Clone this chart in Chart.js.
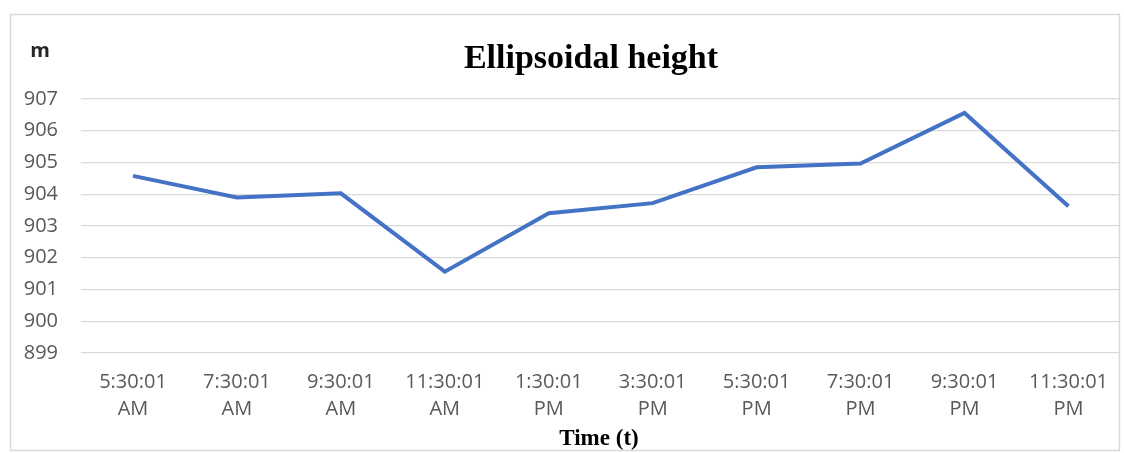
<!DOCTYPE html>
<html>
<head>
<meta charset="utf-8">
<script src="https://cdn.jsdelivr.net/npm/chart.js@4/dist/chart.umd.min.js"></script>
<style>
  html, body { margin: 0; padding: 0; background: #ffffff; }
  #wrap { width: 1124px; height: 453px; position: relative; }
</style>
</head>
<body>
<div id="wrap"><canvas id="c"></canvas></div>
<script>
const categories = [
  ["5:30:01", "AM"], ["7:30:01", "AM"], ["9:30:01", "AM"], ["11:30:01", "AM"],
  ["1:30:01", "PM"], ["3:30:01", "PM"], ["5:30:01", "PM"], ["7:30:01", "PM"],
  ["9:30:01", "PM"], ["11:30:01", "PM"]
];
const heights = [904.58, 903.90, 904.03, 901.56, 903.40, 903.72, 904.85, 904.97, 906.56, 903.62];
const yTicks = [899, 900, 901, 902, 903, 904, 905, 906, 907];
const chartTitle = "Ellipsoidal height";
const yUnit = "m";
const xTitle = "Time (t)";

const decor = {
  id: 'decor',
  beforeDraw(chart) {
    const ctx = chart.ctx;
    ctx.save();
    ctx.fillStyle = '#ffffff';
    ctx.fillRect(0, 0, chart.width, chart.height);
    ctx.strokeStyle = '#d9d9d9';
    ctx.lineWidth = 1.5;
    ctx.strokeRect(10.5, 14.5, 1109, 436);
    ctx.restore();
  },
  afterDraw(chart) {
    const ctx = chart.ctx;
    ctx.save();
    ctx.textAlign = 'center';
    ctx.textBaseline = 'alphabetic';
    ctx.fillStyle = '#000000';
    ctx.font = 'bold 34px "Liberation Serif"';
    ctx.fillText(chartTitle, 591, 68);
    ctx.font = 'bold 23px "Liberation Serif"';
    ctx.fillText(xTitle, 599, 445);
    ctx.fillStyle = '#262626';
    ctx.font = 'bold 20px "Open Sans"';
    ctx.fillText(yUnit, 40, 57);
    ctx.restore();
  }
};

new Chart(document.getElementById('c'), {
  type: 'line',
  data: {
    labels: categories,
    datasets: [{
      data: heights,
      borderColor: '#4472C4',
      borderWidth: 4,
      pointRadius: 0,
      tension: 0,
      fill: false
    }]
  },
  options: {
    responsive: true,
    maintainAspectRatio: false,
    animation: false,
    devicePixelRatio: 1,
    layout: { padding: { top: 99, left: 0, right: 0, bottom: 0 } },
    plugins: {
      legend: { display: false },
      title: { display: false },
      tooltip: { enabled: false }
    },
    scales: {
      x: {
        type: 'category',
        offset: true,
        grid: { display: false, drawTicks: false },
        border: { display: false },
        ticks: {
          color: '#595959',
          font: { family: '"Open Sans"', size: 20, lineHeight: 1.35 },
          padding: 16,
          maxRotation: 0,
          autoSkip: false
        },
        afterFit(scale) { scale.height = 100; }
      },
      y: {
        min: 899,
        max: 907,
        afterBuildTicks(scale) { scale.ticks = yTicks.map(v => ({ value: v })); },
        grid: { color: '#d9d9d9', lineWidth: 1.2, drawTicks: false },
        border: { display: false },
        ticks: {
          color: '#595959',
          font: { family: '"Open Sans"', size: 20 },
          padding: 23
        },
        afterFit(scale) { scale.width = 81; }
      }
    }
  },
  plugins: [decor]
});
</script>
</body>
</html>
